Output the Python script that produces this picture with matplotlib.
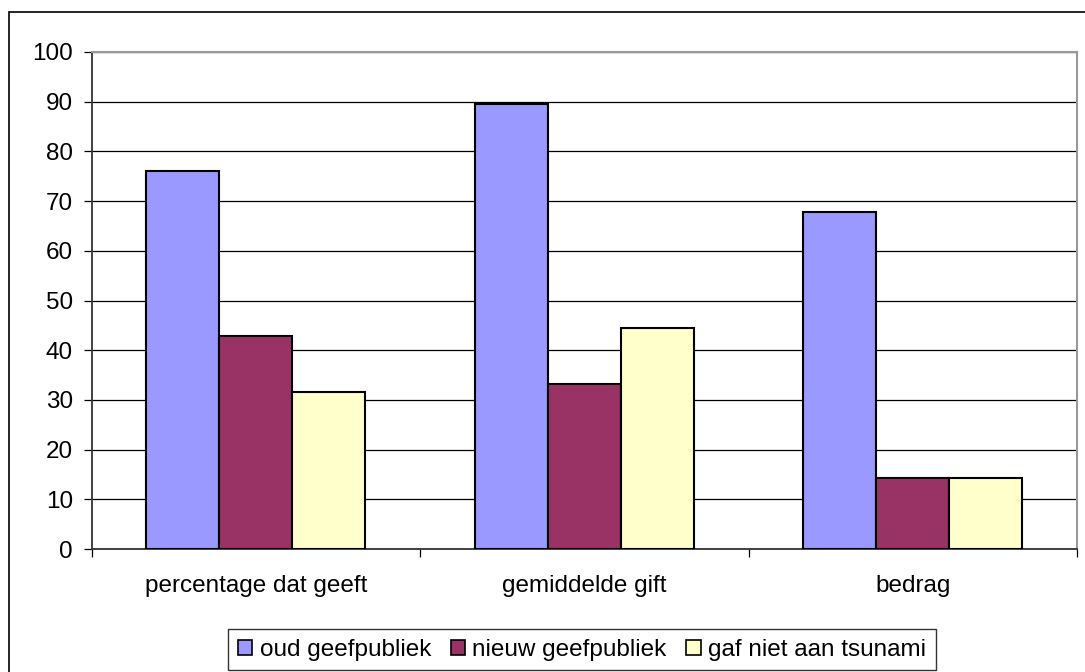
import numpy as np
import matplotlib.pyplot as plt
from matplotlib.patches import Rectangle

plt.rcParams['font.family'] = ['Liberation Sans', 'DejaVu Sans']

categories = ['percentage dat geeft', 'gemiddelde gift', 'bedrag']
series = ['oud geefpubliek', 'nieuw geefpubliek', 'gaf niet aan tsunami']
oud = [76.1, 89.5, 67.9]
nieuw = [42.9, 33.2, 14.3]
geen = [31.6, 44.4, 14.3]
colors = ['#9999FF', '#993366', '#FFFFCC']

fs = 17.5
fig = plt.figure(figsize=(10.85, 6.72), dpi=100)
ax = fig.add_axes([91.5 / 1085, 1 - 549 / 672, (1077 - 91.5) / 1085, (549 - 52) / 672])

x = np.arange(len(categories))
w = 0.222
for i, (vals, c, name) in enumerate(zip([oud, nieuw, geen], colors, series)):
    ax.bar(x + (i - 1) * w, vals, w, color=c, edgecolor='black', linewidth=1.5,
           label=name, zorder=3)

ax.set_xlim(-0.5, 2.5)
ax.set_ylim(0, 100)
ax.set_yticks(range(0, 101, 10))
ax.yaxis.grid(True, color='black', linewidth=0.9, zorder=1)
ax.set_axisbelow(True)

ax.set_xticks(x)
ax.set_xticklabels(categories, fontsize=fs)
ax.set_xticks([-0.5, 0.5, 1.5, 2.5], minor=True)
ax.tick_params(axis='x', which='major', length=0, pad=19)
ax.tick_params(axis='x', which='minor', length=5.5, width=0.9, direction='out')
ax.tick_params(axis='y', length=5.5, width=0.9, labelsize=fs, pad=8)

for s in ['left', 'bottom']:
    ax.spines[s].set_color('#333333')
    ax.spines[s].set_linewidth(1.3)
for s in ['top', 'right']:
    ax.spines[s].set_color('#999999')
    ax.spines[s].set_linewidth(1.5)

# outer chart frame (runs off the right and bottom edge)
fig.patches.append(Rectangle((9 / 1085, -0.1), 1.2, 1 - 12 / 672 + 0.1,
                             transform=fig.transFigure, fill=False,
                             edgecolor='black', linewidth=1.2))

leg = fig.legend(loc='upper center', bbox_to_anchor=(582 / 1085, 1 - 629 / 672), ncol=3,
                 fontsize=fs, frameon=True, fancybox=False, handlelength=0.58,
                 handleheight=0.58, handletextpad=0.3, columnspacing=0.82,
                 borderpad=0.4, borderaxespad=0)
leg.get_frame().set_edgecolor('black')
leg.get_frame().set_linewidth(1.0)
for h in leg.legend_handles:
    h.set_linewidth(1.2)

fig.savefig('out.png', dpi=100)
